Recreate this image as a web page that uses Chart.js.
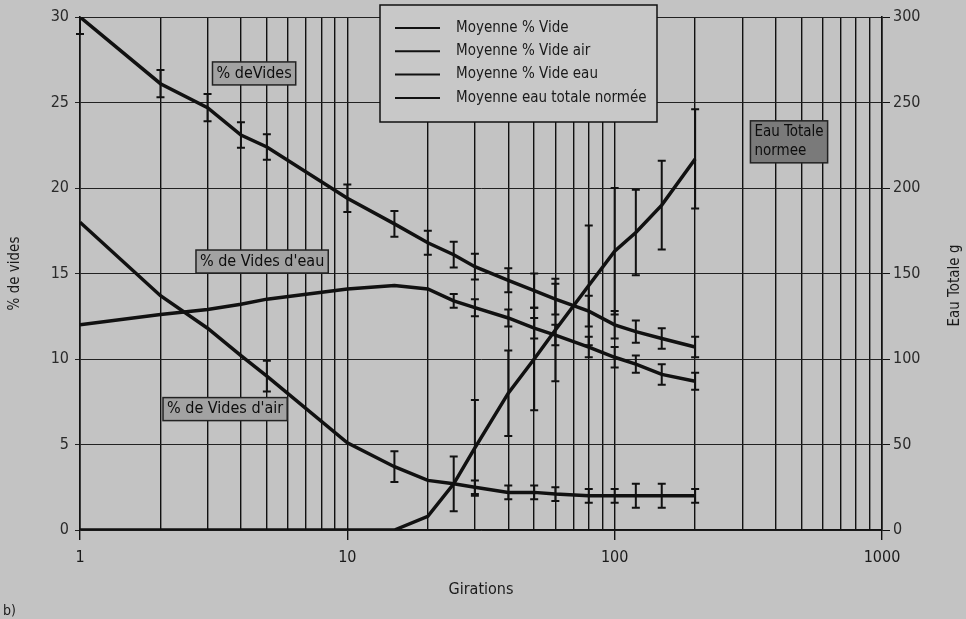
<!DOCTYPE html>
<html>
<head>
<meta charset="utf-8">
<script src="https://cdn.jsdelivr.net/npm/chart.js@4.4.0/dist/chart.umd.min.js"></script>
<style>
html,body{margin:0;padding:0;background:#c3c3c3;}
#wrap{width:966px;height:619px;position:relative;}
</style>
</head>
<body>
<div id="wrap"><canvas id="c" width="966" height="619"></canvas></div>
<script>
// ---- data ----
const gyrations = [1,2,3,4,5,10,15,20,25,30,40,50,60,80,100,120,150,200];
const videMoy   = [30,26.1,24.7,23.1,22.4,19.4,17.9,16.8,16.1,15.4,14.6,14.0,13.5,12.8,12.0,11.6,11.2,10.7];
const videAir   = [18,13.7,11.8,10.2,9.0,5.1,3.7,2.9,2.7,2.5,2.2,2.2,2.1,2.0,2.0,2.0,2.0,2.0];
const videEau   = [12,12.6,12.9,13.2,13.5,14.1,14.3,14.1,13.4,13.0,12.4,11.8,11.4,10.7,10.1,9.7,9.1,8.7];
const eauTotale = [0,0,0,0,0,0,0,8,27,48,80,100,117,143,163,174,190,217];

const videErr   = [1.0,0.8,0.8,0.75,0.75,0.8,0.75,0.7,0.75,0.75,0.7,1.0,0.9,0.9,0.8,0.65,0.6,0.6];
const airErr    = [0,0,0,0,0.9,0,0.9,0,0,0.4,0.4,0.4,0.4,0.4,0.4,0.7,0.7,0.4];
const eauErr    = [0,0,0,0,0,0,0,0,0.4,0.5,0.5,0.6,0.6,0.6,0.6,0.5,0.6,0.5];
const eauTotErr = [0,0,0,0,0,0,0,0,16,28,25,30,30,35,37,25,26,29];

const xTickValues = [1,2,3,4,5,6,7,8,9,10,20,30,40,50,60,70,80,90,100,200,300,400,500,600,700,800,900,1000];
const xLabelValues = [1,10,100,1000];
const leftTicks = [0,5,10,15,20,25,30];
const rightTicks = [0,50,100,150,200,250,300];

const seriesNames = ['Moyenne % Vide','Moyenne % Vide air','Moyenne % Vide eau','Moyenne eau totale normée'];
const curveLabels = [
  {text:['% deVides'], gx:4.48, v:26.7, axis:'y', dark:false},
  {text:["% de Vides d'eau"], gx:4.8, v:15.7, axis:'y', dark:false},
  {text:["% de Vides d'air"], gx:3.49, v:7.07, axis:'y', dark:false},
  {text:['Eau Totale','normee'], gx:449, v:227, axis:'y2', dark:true}
];

const FONT = "'Liberation Sans Narrow','DejaVu Sans Condensed','Open Sans',sans-serif";
const INK = '#111';

function pts(vals){ return gyrations.map((g,i)=>({x:g,y:vals[i]})); }

const bgPlugin = {
  id:'bg',
  beforeDraw(chart){
    const c = chart.ctx; c.save(); c.fillStyle='#c3c3c3'; c.fillRect(0,0,chart.width,chart.height); c.restore();
  }
};

const errPlugin = {
  id:'errbars',
  afterDatasetsDraw(chart){
    const ctx = chart.ctx, a = chart.chartArea, xs = chart.scales.x;
    ctx.save();
    ctx.beginPath(); ctx.rect(a.left-5, a.top, a.right-a.left+10, a.bottom-a.top); ctx.clip();
    ctx.strokeStyle = INK; ctx.lineWidth = 2;
    chart.data.datasets.forEach(ds=>{
      if(!ds.errors) return;
      const ys = chart.scales[ds.yAxisID];
      ds.data.forEach((p,j)=>{
        const e = ds.errors[j]; if(!e) return;
        const x = xs.getPixelForValue(p.x);
        const y1 = ys.getPixelForValue(p.y+e), y2 = ys.getPixelForValue(p.y-e);
        ctx.beginPath();
        ctx.moveTo(x,y1); ctx.lineTo(x,y2);
        ctx.moveTo(x-4,y1); ctx.lineTo(x+4,y1);
        ctx.moveTo(x-4,y2); ctx.lineTo(x+4,y2);
        ctx.stroke();
      });
    });
    ctx.restore();
  }
};

const decoPlugin = {
  id:'deco',
  afterDraw(chart){
    const ctx = chart.ctx, a = chart.chartArea, xs = chart.scales.x;
    ctx.save();
    // legend box
    const lx = a.left + 300, ly = 5, lw = 277, lh = 117;
    ctx.fillStyle = '#c8c8c8'; ctx.fillRect(lx,ly,lw,lh);
    ctx.strokeStyle = INK; ctx.lineWidth = 1.5; ctx.strokeRect(lx,ly,lw,lh);
    ctx.font = '15px ' + FONT; ctx.fillStyle = '#1a1a1a'; ctx.textBaseline='middle'; ctx.textAlign='left';
    seriesNames.forEach((n,i)=>{
      const y = ly + 23 + i*23.3;
      ctx.beginPath(); ctx.lineWidth = 2; ctx.moveTo(lx+15,y); ctx.lineTo(lx+60,y); ctx.stroke();
      ctx.fillText(n, lx+76, y);
    });
    // curve labels
    curveLabels.forEach(L=>{
      const cx = xs.getPixelForValue(L.gx), cy = chart.scales[L.axis].getPixelForValue(L.v);
      ctx.font = (L.dark ? '15px ' : '16px ') + FONT;
      const w = Math.max(...L.text.map(t=>ctx.measureText(t).width)) + 8;
      const h = L.text.length*19 + 4;
      ctx.fillStyle = L.dark ? '#7a7a7a' : '#a2a2a2';
      ctx.fillRect(cx-w/2, cy-h/2, w, h);
      ctx.lineWidth = 1.5; ctx.strokeStyle = '#222'; ctx.strokeRect(cx-w/2, cy-h/2, w, h);
      ctx.fillStyle = '#0d0d0d'; ctx.textAlign = L.dark ? 'left':'center';
      L.text.forEach((t,k)=>{
        const ty = cy - h/2 + 2 + 9.5 + k*19;
        ctx.fillText(t, L.dark ? cx-w/2+4 : cx, ty);
      });
    });
    // right axis title (reads bottom-to-top)
    ctx.save();
    ctx.translate(955, (a.top+a.bottom)/2 + 12);
    ctx.rotate(-Math.PI/2);
    ctx.font = '15px ' + FONT; ctx.fillStyle='#1a1a1a'; ctx.textAlign='center'; ctx.textBaseline='middle';
    ctx.fillText('Eau Totale g', 0, 0);
    ctx.restore();
    // panel tag
    ctx.font = '14px ' + FONT; ctx.fillStyle='#1a1a1a'; ctx.textAlign='left'; ctx.textBaseline='middle';
    ctx.fillText('b)', 3, 611);
    ctx.restore();
  }
};

const lineStyle = {borderColor:INK, borderWidth:3.5, pointRadius:0, tension:0, fill:false};

new Chart(document.getElementById('c'), {
  type:'line',
  data:{
    datasets:[
      Object.assign({label:seriesNames[0], data:pts(videMoy), yAxisID:'y', errors:videErr}, lineStyle),
      Object.assign({label:seriesNames[1], data:pts(videAir), yAxisID:'y', errors:airErr}, lineStyle),
      Object.assign({label:seriesNames[2], data:pts(videEau), yAxisID:'y', errors:eauErr}, lineStyle),
      Object.assign({label:seriesNames[3], data:pts(eauTotale), yAxisID:'y2', errors:eauTotErr}, lineStyle)
    ]
  },
  options:{
    responsive:false, animation:false, devicePixelRatio:1,
    layout:{padding:{top:17,left:0,right:0,bottom:0}},
    plugins:{legend:{display:false}, tooltip:{enabled:false}},
    scales:{
      x:{
        type:'logarithmic', position:'bottom', min:1, max:1000,
        afterBuildTicks(s){ s.ticks = xTickValues.map(v=>({value:v, major:xLabelValues.includes(v)})); },
        afterFit(s){ s.height = 89; },
        ticks:{autoSkip:false, maxRotation:0, padding:8, color:'#1a1a1a', font:{family:FONT,size:16},
          callback:(v)=> xLabelValues.includes(v) ? String(v) : ''},
        grid:{color:INK, lineWidth:1.4, tickLength:10,
          tickColor:(c)=> (c.tick && xLabelValues.includes(c.tick.value)) ? INK : 'rgba(0,0,0,0)'},
        border:{color:INK, width:1.6},
        title:{display:true, text:'Girations', color:'#1a1a1a', font:{family:FONT,size:16}, padding:{top:0,bottom:20}}
      },
      y:{
        type:'linear', position:'left', min:0, max:30,
        afterBuildTicks(s){ s.ticks = leftTicks.map(v=>({value:v})); },
        afterFit(s){ s.width = 80; },
        ticks:{padding:6, color:'#2a2a2a', font:{family:FONT,size:16}},
        grid:{color:'#222', lineWidth:1, tickLength:5},
        border:{color:INK, width:1.6},
        title:{display:true, text:'% de vides', color:'#1a1a1a', font:{family:FONT,size:15}, padding:{top:6,bottom:0}}
      },
      y2:{
        type:'linear', position:'right', min:0, max:300,
        afterBuildTicks(s){ s.ticks = rightTicks.map(v=>({value:v})); },
        afterFit(s){ s.width = 84; },
        ticks:{padding:3, color:'#2a2a2a', font:{family:FONT,size:16}},
        grid:{drawOnChartArea:false, color:INK, lineWidth:1, tickLength:8},
        border:{color:INK, width:1.6}
      }
    }
  },
  plugins:[bgPlugin, errPlugin, decoPlugin]
});
</script>
</body>
</html>
